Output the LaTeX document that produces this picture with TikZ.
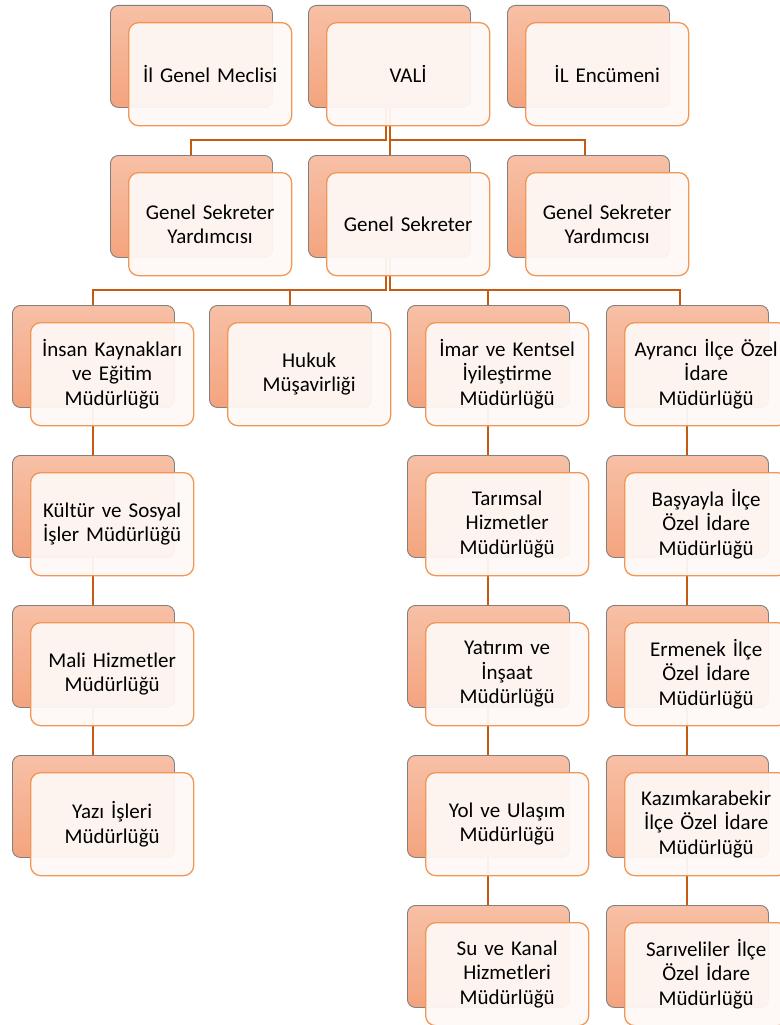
\documentclass[tikz,border=0pt]{standalone}
\usepackage{fontspec}
\setmainfont{Carlito}
\definecolor{connc}{RGB}{197,90,17}
\definecolor{backtop}{RGB}{247,192,166}
\definecolor{backbot}{RGB}{244,164,126}
\definecolor{backline}{RGB}{128,128,128}
\definecolor{frontfill}{RGB}{254,248,245}
\definecolor{frontline}{RGB}{241,150,85}
\tikzset{
  connline/.style={draw=connc, line width=2pt},
  backbox/.style={draw=backline, line width=0.9pt, rounded corners=8pt,
    top color=backtop, bottom color=backbot, minimum width=162pt,
    minimum height=102pt, inner sep=0pt, anchor=north west},
  frontbox/.style={draw=frontline, line width=1.3pt, rounded corners=10pt,
    fill=frontfill, fill opacity=0.95, text opacity=1, minimum width=163pt,
    minimum height=103pt, inner sep=2pt, text width=158pt, align=center,
    anchor=north west, font=\fontsize{21}{24.5}\selectfont}
}
\newcommand{\orgunit}[4]{%
  \node[backbox] (b#1) at (#2,#3) {};
  \node[frontbox] (f#1) at (#2+18,#3+17) {#4};
}
\begin{document}
\begin{tikzpicture}[x=1pt,y=-1pt]
\useasboundingbox (0,0) rectangle (779,1025);
\pgfdeclarelayer{bg}
\pgfsetlayers{bg,main}
% row 1
\orgunit{a1}{110}{5}{İl Genel Meclisi}
\orgunit{a2}{308}{5}{VALİ}
\orgunit{a3}{507}{5}{İL Encümeni}
% row 2
\orgunit{s1}{110}{155}{Genel Sekreter\\Yardımcısı}
\orgunit{s2}{308}{155}{Genel Sekreter}
\orgunit{s3}{507}{155}{Genel Sekreter\\Yardımcısı}
% row 3
\orgunit{c11}{12}{305}{İnsan Kaynakları\\ve Eğitim\\Müdürlüğü}
\orgunit{c21}{209}{305}{Hukuk\\Müşavirliği}
\orgunit{c31}{407}{305}{İmar ve Kentsel\\İyileştirme\\Müdürlüğü}
\orgunit{c41}{606}{305}{Ayrancı İlçe Özel\\İdare\\Müdürlüğü}
% column 1
\orgunit{c12}{12}{455}{Kültür ve Sosyal\\İşler Müdürlüğü}
\orgunit{c13}{12}{605}{Mali Hizmetler\\Müdürlüğü}
\orgunit{c14}{12}{755}{Yazı İşleri\\Müdürlüğü}
% column 3
\orgunit{c32}{407}{455}{Tarımsal\\Hizmetler\\Müdürlüğü}
\orgunit{c33}{407}{605}{Yatırım ve\\İnşaat\\Müdürlüğü}
\orgunit{c34}{407}{755}{Yol ve Ulaşım\\Müdürlüğü}
\orgunit{c35}{407}{905}{Su ve Kanal\\Hizmetleri\\Müdürlüğü}
% column 4
\orgunit{c42}{606}{455}{Başyayla İlçe\\Özel İdare\\Müdürlüğü}
\orgunit{c43}{606}{605}{Ermenek İlçe\\Özel İdare\\Müdürlüğü}
\orgunit{c44}{606}{755}{Kazımkarabekir\\İlçe Özel İdare\\Müdürlüğü}
\orgunit{c45}{606}{905}{Sarıveliler İlçe\\Özel İdare\\Müdürlüğü}
% connectors
\begin{pgfonlayer}{bg}
\draw[connline] ([xshift=-3.5pt]ba2.south) |- ([yshift=15pt]bs1.north) -- (bs1.north);
\draw[connline] ([xshift=0.5pt]ba2.south) -- ([xshift=0.5pt]bs2.north);
\draw[connline] ([xshift=0.5pt]ba2.south) |- ([yshift=15pt,xshift=-3pt]bs3.north) -- ([xshift=-3pt]bs3.north);
\draw[connline] ([xshift=-3.5pt]bs2.south) |- ([yshift=15pt]bc11.north) -- (bc11.north);
\draw[connline] ([xshift=-3.5pt]bs2.south) |- ([yshift=15pt]bc21.north) -- (bc21.north);
\draw[connline] ([xshift=0.5pt]bs2.south) |- ([yshift=15pt]bc31.north) -- (bc31.north);
\draw[connline] ([xshift=0.5pt]bs2.south) |- ([yshift=15pt,xshift=-7pt]bc41.north) -- ([xshift=-7pt]bc41.north);
\draw[connline] (bc11.south) -- (bc12.north);
\draw[connline] (bc12.south) -- (bc13.north);
\draw[connline] (bc13.south) -- (bc14.north);
\draw[connline] (bc31.south) -- (bc32.north);
\draw[connline] (bc32.south) -- (bc33.north);
\draw[connline] (bc33.south) -- (bc34.north);
\draw[connline] (bc34.south) -- (bc35.north);
\draw[connline] (bc41.south) -- (bc42.north);
\draw[connline] (bc42.south) -- (bc43.north);
\draw[connline] (bc43.south) -- (bc44.north);
\draw[connline] (bc44.south) -- (bc45.north);
\end{pgfonlayer}
\end{tikzpicture}
\end{document}
